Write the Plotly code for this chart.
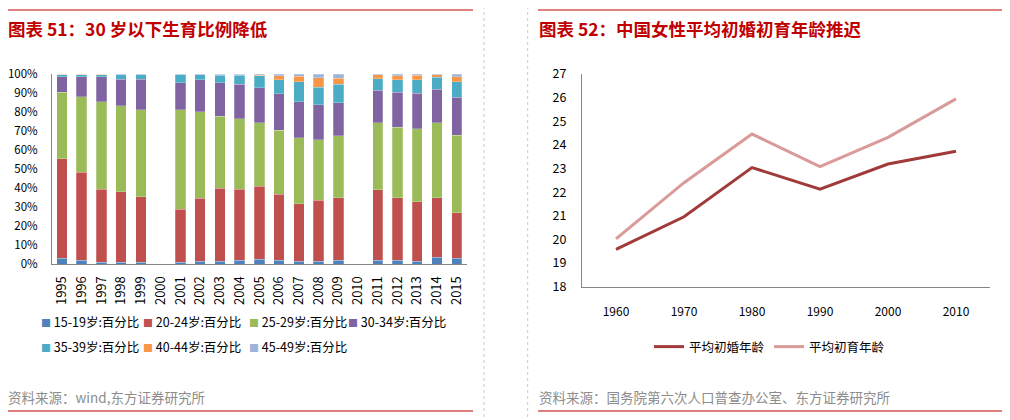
import plotly.graph_objects as go

# ---------------- data ----------------
years = ["1995", "1996", "1997", "1998", "1999", "2000", "2001", "2002", "2003", "2004", "2005",
         "2006", "2007", "2008", "2009", "2010", "2011", "2012", "2013", "2014", "2015"]
p15_19 = [3, 2, 0.8, 0.8, 0.8, None, 0.8, 1.5, 1.5, 2, 2.5, 2, 1.5, 1.5, 2, None, 2, 2, 1.5, 3.5, 3]
p20_24 = [52.5, 46.4, 38.5, 37.1, 34.5, None, 28.1, 33.2, 38.3, 37.4, 38.5, 34.6, 30.3, 32.1, 33, None, 37.2, 33, 31.2, 31.5, 24.1]
p25_29 = [35, 39.5, 46.2, 45.5, 46, None, 52.4, 45.4, 38, 37, 33.3, 33.8, 34.7, 31.7, 32.4, None, 35.2, 37.1, 38.5, 39.4, 40.6]
p30_34 = [8, 10.6, 13, 13.9, 16, None, 14, 16.9, 17.5, 18.3, 18.4, 19.1, 19, 18.6, 17.6, None, 17.1, 18.3, 18.7, 17.6, 20.1]
p35_39 = [1.2, 1.2, 1.2, 2.3, 2.3, None, 4.3, 2.5, 4, 4.7, 6.3, 7.6, 10.5, 9.1, 9.5, None, 6.1, 6.7, 7.2, 6.3, 8.1]
p40_44 = [0.1, 0.1, 0.1, 0.1, 0.1, None, 0.1, 0.2, 0.3, 0.2, 0.3, 2.1, 2.9, 5, 3.3, None, 2.1, 2.1, 2.2, 1.4, 2.6]
p45_49 = [0.2, 0.2, 0.2, 0.3, 0.3, None, 0.3, 0.3, 0.4, 0.4, 0.7, 0.8, 1.1, 2, 2.2, None, 0.3, 0.8, 0.7, 0.3, 1.5]
age_series = ["15-19岁:百分比", "20-24岁:百分比", "25-29岁:百分比", "30-34岁:百分比",
              "35-39岁:百分比", "40-44岁:百分比", "45-49岁:百分比"]

census_years = ["1960", "1970", "1980", "1990", "2000", "2010"]
first_marriage_age = [19.58, 20.96, 23.04, 22.13, 23.19, 23.73]
first_birth_age = [20.02, 22.40, 24.46, 23.08, 24.32, 25.95]
line_series = ["平均初婚年龄", "平均初育年龄"]

title_left = "图表 51：30 岁以下生育比例降低"
title_right = "图表 52：中国女性平均初婚初育年龄推迟"
source_left = "资料来源：wind,东方证券研究所"
source_right = "资料来源：国务院第六次人口普查办公室、东方证券研究所"

# ---------------- styling ----------------
W, H = 1010, 420
OFF = 8  # page body margin in front of the figure
FONT = "Noto Sans CJK SC, Noto Sans, sans-serif"
bar_colors = ["#4F81BD", "#C0504D", "#9BBB59", "#8064A2", "#4BACC6", "#F79646", "#9DB3DA"]
line_colors = ["#A13B3A", "#D99A98"]
RED = "#C00000"
AXIS = "#868686"


def px_x(x):
    return (x - OFF) / W


def px_y(y):
    return 1 - (y - OFF) / H


fig = go.Figure()

# legend placement (page pixels: start of entry content x, row centre y)
left_leg_pos = [(41, 322), (143, 322), (249, 322), (348, 322),
                (41, 347), (143, 347), (249, 347)]
right_leg_pos = [(689, 347), (809, 347)]

series_vals = [p15_19, p20_24, p25_29, p30_34, p35_39, p40_44, p45_49]
for i, (name, vals) in enumerate(zip(age_series, series_vals)):
    fig.add_trace(go.Bar(
        x=years, y=[None if v is None else v / 100 for v in vals], name=name,
        marker=dict(color=bar_colors[i], line=dict(width=0.4, color="rgba(255,255,255,0.6)")),
        xaxis="x", yaxis="y", showlegend=False, legendgroup=name,
    ))

legend_layouts = {}
for i, name in enumerate(age_series):
    key = "legend" if i == 0 else "legend%d" % (i + 1)
    label = ('<span style="color:%s;font-size:10px">■</span> ' % bar_colors[i]) + name
    fig.add_trace(go.Scatter(
        x=[None], y=[None], mode="markers", name=label, legendgroup=name,
        marker=dict(symbol="square", size=1, color="rgba(0,0,0,0)"),
        xaxis="x", yaxis="y", legend=key, hoverinfo="skip",
    ))
    tx, ty = left_leg_pos[i]
    legend_layouts[key] = dict(x=px_x(tx - 40), y=px_y(ty), xanchor="left", yanchor="middle",
                               orientation="h", font=dict(size=12.5, family=FONT),
                               bgcolor="rgba(0,0,0,0)", borderwidth=0, itemwidth=30)

for j, (name, vals) in enumerate(zip(line_series, [first_marriage_age, first_birth_age])):
    key = "legend%d" % (8 + j)
    fig.add_trace(go.Scatter(
        x=census_years, y=vals, name=name, mode="lines",
        line=dict(color=line_colors[j], width=3),
        xaxis="x2", yaxis="y2", legend=key,
    ))
    tx, ty = right_leg_pos[j]
    legend_layouts[key] = dict(x=px_x(tx - 40), y=px_y(ty), xanchor="left", yanchor="middle",
                               orientation="h", font=dict(size=12.5, family=FONT),
                               bgcolor="rgba(0,0,0,0)", borderwidth=0, itemwidth=30)

fig.update_layout(
    width=W, height=H,
    margin=dict(l=0, r=0, t=0, b=0, pad=0, autoexpand=False),
    paper_bgcolor="white", plot_bgcolor="white",
    font=dict(family=FONT, size=12, color="#000000"),
    barmode="stack", bargap=0.47,
    xaxis=dict(domain=[px_x(52), px_x(466.6)], type="category", range=[-0.5, 20.5],
               showline=True, linecolor=AXIS, linewidth=1, ticks="", tickangle=-90,
               tickfont=dict(size=13, family=FONT), showgrid=False, ticklabelstandoff=6,
               anchor="y", automargin=False),
    yaxis=dict(domain=[px_y(264), px_y(74)], range=[0, 1], tickformat=".0%", dtick=0.1,
               showline=True, linecolor=AXIS, linewidth=1, ticks="", showgrid=False, zeroline=False,
               tickfont=dict(size=11.5, family=FONT), ticklabelstandoff=11, anchor="x",
               automargin=False),
    xaxis2=dict(domain=[px_x(582), px_x(990)], type="category", range=[-0.5, 5.5],
                showline=True, linecolor=AXIS, linewidth=1, ticks="", showgrid=False,
                tickfont=dict(size=12, family=FONT), ticklabelstandoff=14, anchor="y2",
                automargin=False),
    yaxis2=dict(domain=[px_y(286.7), px_y(74)], range=[18, 27], dtick=1,
                showline=True, linecolor=AXIS, linewidth=1, ticks="", showgrid=False, zeroline=False,
                tickfont=dict(size=12.5, family=FONT), ticklabelstandoff=12, anchor="x2",
                automargin=False),
    showlegend=True,
    **legend_layouts,
)

# titles and sources
fig.add_annotation(text="<b>" + title_left + "</b>", xref="paper", yref="paper",
                   x=px_x(6), y=px_y(28), xanchor="left", yanchor="middle", showarrow=False,
                   font=dict(size=17.5, color=RED, family=FONT))
fig.add_annotation(text="<b>" + title_right + "</b>", xref="paper", yref="paper",
                   x=px_x(537), y=px_y(28), xanchor="left", yanchor="middle", showarrow=False,
                   font=dict(size=17.5, color=RED, family=FONT))
fig.add_annotation(text=source_left, xref="paper", yref="paper",
                   x=px_x(6), y=px_y(397), xanchor="left", yanchor="middle", showarrow=False,
                   font=dict(size=13.5, color="#8C8C8C", family=FONT))
fig.add_annotation(text=source_right, xref="paper", yref="paper",
                   x=px_x(537), y=px_y(397), xanchor="left", yanchor="middle", showarrow=False,
                   font=dict(size=13.5, color="#8C8C8C", family=FONT))

# decorative rules
for x0, x1 in [(7, 473), (538, 1008)]:
    for y in (10, 411):
        fig.add_shape(type="line", xref="paper", yref="paper",
                      x0=px_x(x0), x1=px_x(x1), y0=px_y(y), y1=px_y(y),
                      line=dict(color=RED, width=1.2))
for x in (484, 527.7):
    fig.add_shape(type="line", xref="paper", yref="paper",
                  x0=px_x(x), x1=px_x(x), y0=px_y(0), y1=px_y(420),
                  line=dict(color="#C8C8C8", width=1, dash="dot"))

fig.write_html("out.html")
